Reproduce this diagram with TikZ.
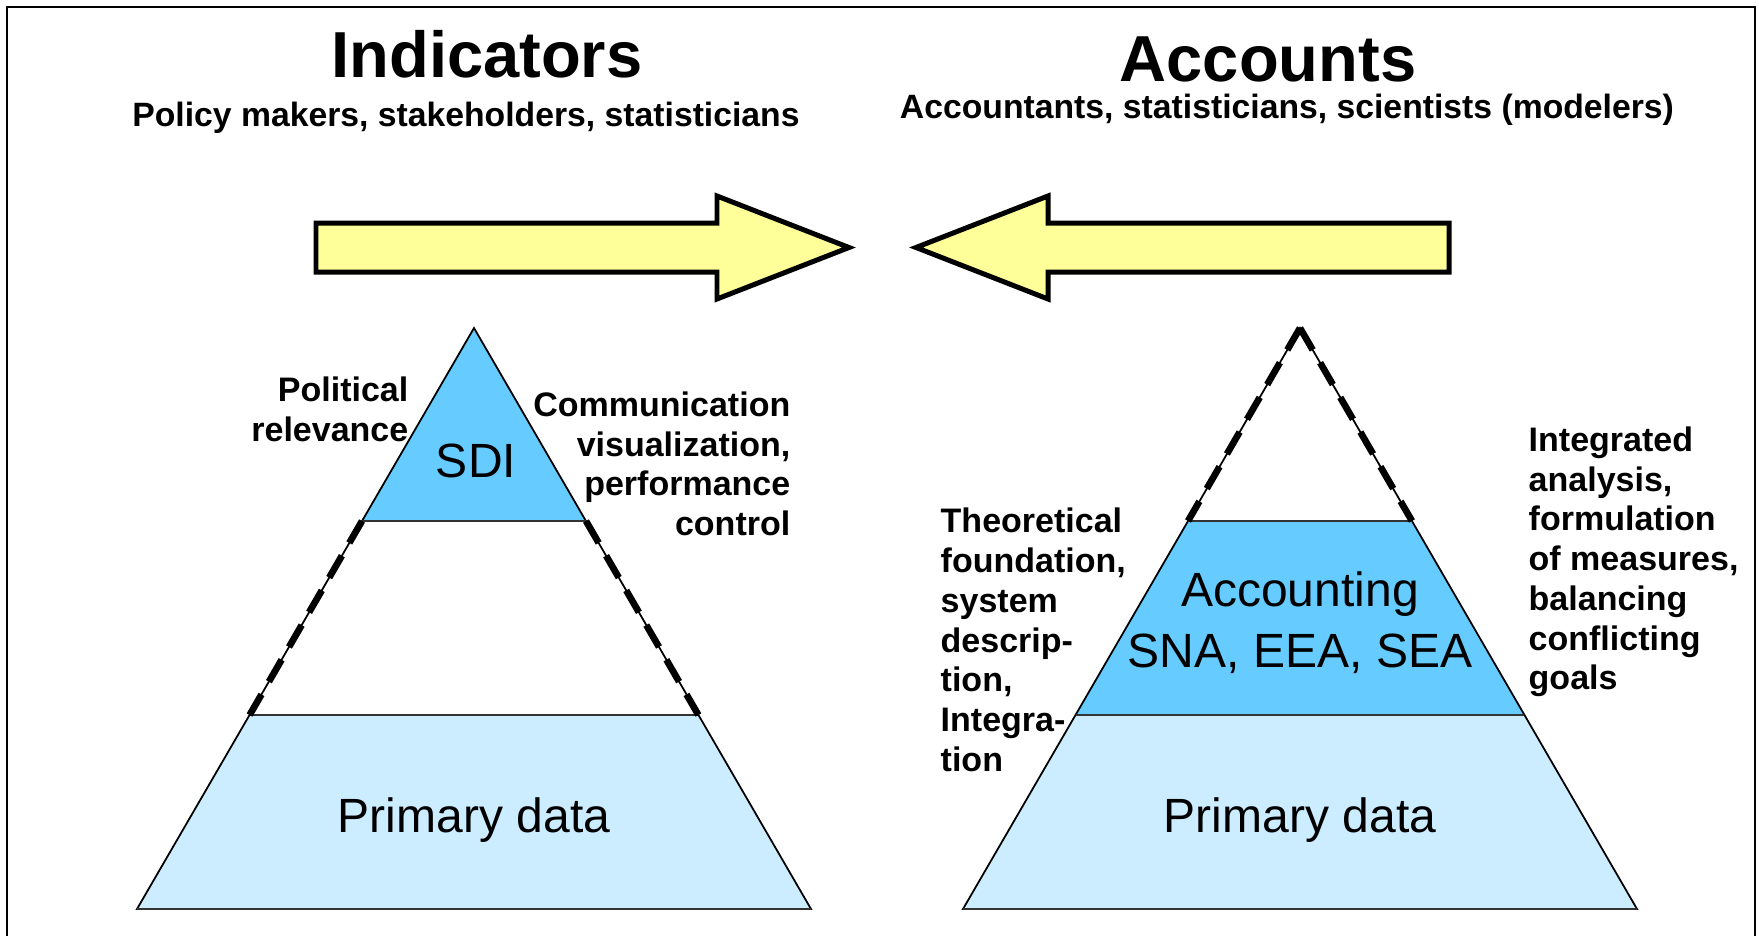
\documentclass[tikz,border=0pt]{standalone}
\usepackage{fontspec}
\setmainfont{Liberation Sans}
\definecolor{topblue}{HTML}{66CCFF}
\definecolor{lightblue}{HTML}{CCECFF}
\definecolor{arrowyellow}{HTML}{FFFF99}
\definecolor{linegray}{HTML}{333333}
\tikzset{
  titletext/.style={font=\bfseries\fontsize{18.5}{22}\selectfont, inner sep=0pt},
  subtext/.style={font=\bfseries\fontsize{9.59}{11.4}\selectfont, inner sep=0pt},
  sidetext/.style={font=\bfseries\fontsize{9.67}{11.3}\selectfont, inner sep=0pt},
  bodytext/.style={font=\fontsize{13.66}{17.36}\selectfont, inner sep=0pt},
  pyrline/.style={draw=black, line width=0.5pt, line join=miter},
  bandline/.style={draw=linegray, line width=0.6pt},
  dashside/.style={draw=black, line width=1.9pt, dash pattern=on 7.2pt off 4.2pt},
  bigarrow/.style={draw=black, fill=arrowyellow, line width=1.42pt, line join=miter, miter limit=10},
}
\begin{document}
\begin{tikzpicture}[x=0.01cm, y=-0.01cm]
\useasboundingbox (0,0) rectangle (1759,936);
\clip (0,0) rectangle (1759,936);
\fill[white] (0,0) rectangle (1759,936);
% frame
\draw[line width=0.75pt] (7,7) rectangle (1755,990);

% ---------- left pyramid ----------
\coordinate (LA) at (474,328);
\coordinate (L1l) at (362,521);   \coordinate (L1r) at (586,521);
\coordinate (L2l) at (249.6,715); \coordinate (L2r) at (698.4,715);
\coordinate (L3l) at (137,909);   \coordinate (L3r) at (811,909);
\fill[topblue] (LA) -- (L1r) -- (L1l) -- cycle;
\fill[white] (L1l) -- (L1r) -- (L2r) -- (L2l) -- cycle;
\fill[lightblue] (L2l) -- (L2r) -- (L3r) -- (L3l) -- cycle;
\draw[pyrline] (LA) -- (L3r) -- (L3l) -- cycle;
\draw[bandline] (L1l) -- (L1r);
\draw[bandline] (L2l) -- (L2r);
\draw[bandline] (L3l) -- (L3r);
\draw[dashside] (L1l) -- (L2l);
\draw[dashside] (L1r) -- (L2r);

% ---------- right pyramid ----------
\coordinate (RA) at (1300,328);
\coordinate (R1l) at (1188,521);   \coordinate (R1r) at (1412,521);
\coordinate (R2l) at (1075.6,715); \coordinate (R2r) at (1524.4,715);
\coordinate (R3l) at (963,909);    \coordinate (R3r) at (1637,909);
\fill[white] (RA) -- (R1r) -- (R1l) -- cycle;
\fill[topblue] (R1l) -- (R1r) -- (R2r) -- (R2l) -- cycle;
\fill[lightblue] (R2l) -- (R2r) -- (R3r) -- (R3l) -- cycle;
\draw[pyrline] (RA) -- (R3r) -- (R3l) -- cycle;
\draw[bandline] (R1l) -- (R1r);
\draw[bandline] (R2l) -- (R2r);
\draw[bandline] (R3l) -- (R3r);
\draw[dashside] (RA) -- (R1l);
\draw[dashside] (RA) -- (R1r);

% ---------- arrows ----------
\draw[bigarrow] (316,223) -- (717,223) -- (717,196) -- (849,247.5) -- (717,299) -- (717,272) -- (316,272) -- cycle;
\draw[bigarrow] (1449,223) -- (1048,223) -- (1048,196) -- (916,247.5) -- (1048,299) -- (1048,272) -- (1449,272) -- cycle;

% ---------- titles ----------
\node[titletext, anchor=base] (indtitle) at (487,77) {Indicators};
\node[subtext, anchor=base] (indsub) at (466,126) {Policy makers, stakeholders, statisticians};
\node[titletext, anchor=base] (acctitle) at (1268,81) {Accounts};
\node[subtext, anchor=base] (accsub) at (1287,118) {Accountants, statisticians, scientists (modelers)};

% ---------- left pyramid texts ----------
\node[sidetext, anchor=north east, align=right] (polrel) at (409,376) {Political\\relevance};
\node[sidetext, anchor=north east, align=right] (comm) at (791,391) {Communication\\visualization,\\performance\\control};
\node[bodytext, anchor=base] (sdi) at (476,477) {SDI};
\node[bodytext, anchor=base] (lprim) at (474,832) {Primary data};

% ---------- right pyramid texts ----------
\node[sidetext, anchor=north west, align=left] (theo) at (940,507.5) {Theoretical\\foundation,\\system\\descrip-\\tion,\\Integra-\\tion};
\node[sidetext, anchor=north west, align=left] (integ) at (1528,426) {Integrated\\analysis,\\formulation\\of measures,\\balancing\\conflicting\\goals};
\node[bodytext, anchor=north, align=center] (acc) at (1300,570.6) {Accounting\\SNA, EEA, SEA};
\node[bodytext, anchor=base] (rprim) at (1300,832) {Primary data};
\end{tikzpicture}
\end{document}
